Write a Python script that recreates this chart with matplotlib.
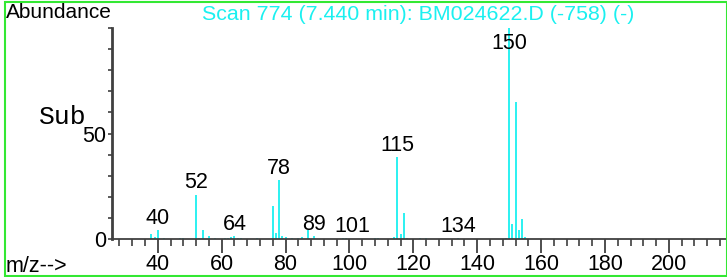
import matplotlib.pyplot as plt
from matplotlib.patches import Rectangle
from matplotlib.ticker import MultipleLocator, FixedLocator

# ----------------------------------------------------------------------------
# Data (m/z, relative abundance)
# ----------------------------------------------------------------------------
mz = [38, 39, 40, 42, 47, 48, 52, 53, 54, 56, 58, 61, 62, 63, 64, 65, 66, 71,
      76, 77, 78, 79, 80, 82, 84, 85, 87, 89, 98, 99, 108, 109, 114, 115, 116,
      117, 118, 122, 124, 134, 149, 150, 151, 152, 153, 154, 155]
abundance = [2.6, 1.0, 4.2, 0.5, 0.5, 0.4, 21.0, 0.5, 4.5, 1.2, 0.6, 0.6, 0.6,
             0.8, 1.3, 0.6, 0.5, 0.4, 15.7, 2.7, 27.8, 1.2, 1.0, 0.4, 0.4, 1.0,
             4.5, 1.2, 0.4, 0.4, 0.3, 0.3, 1.0, 38.7, 2.6, 12.5, 0.6, 0.3, 0.3,
             0.5, 0.5, 100.0, 7.0, 65.0, 4.2, 9.5, 1.0]

label_mz = [40, 52, 64, 78, 89, 101, 115, 134, 150]

title = "Scan 774 (7.440 min): BM024622.D (-758) (-)"
CYAN = "#1AF0F0"
AXIS = "#404040"
FONT = "Liberation Sans"
FS = 15.5

plt.rcParams["font.family"] = FONT

fig = plt.figure(figsize=(7.27, 2.77), dpi=100)
ax = fig.add_axes([111.5 / 727, 38 / 277, 1 - 111.5 / 727, 211 / 277])

ax.vlines(mz, 0, abundance, colors=CYAN, linewidth=1.3)

# peak labels above the bars
height_of = dict(zip(mz, abundance))
for m in label_mz:
    h = min(height_of.get(m, 0.3), 87)
    ax.annotate(str(m), (m, h), xytext=(0, 4.5), textcoords="offset points",
                ha="center", va="baseline", fontsize=FS, color="black")

ax.set_xlim(25.5, 218.2)
ax.set_ylim(0, 100)

for side in ("top", "right"):
    ax.spines[side].set_visible(False)
ax.spines["left"].set_color(AXIS)
ax.spines["left"].set_linewidth(2)
ax.spines["bottom"].set_color(AXIS)
ax.spines["bottom"].set_linewidth(1.3)

ax.xaxis.set_major_locator(MultipleLocator(20))
ax.xaxis.set_minor_locator(MultipleLocator(4))
ax.tick_params(axis="x", which="major", direction="out", length=10, width=1.3,
               color=AXIS, labelsize=FS, pad=1)
ax.tick_params(axis="x", which="minor", direction="out", length=5, width=1.2,
               color=AXIS)

ax.yaxis.set_major_locator(FixedLocator([0, 50]))
ax.yaxis.set_minor_locator(MultipleLocator(10))
ax.tick_params(axis="y", which="both", direction="out", length=3, width=1.2,
               color=AXIS, labelsize=FS, pad=0.5)

# header / footer texts
fig.text(6 / 727, 1 - 13 / 277, "Abundance", fontsize=15, ha="left",
         va="center")
fig.text(418 / 727, 1 - 14 / 277, title, fontsize=15.4, color=CYAN,
         ha="center", va="center")
fig.text(6 / 727, 1 - 266 / 277, "m/z-->", fontsize=FS, ha="left",
         va="center")
fig.text(87 / 727, 1 - 124 / 277, "Sub", fontsize=19, family="Liberation Mono",
         ha="right", va="baseline")

# green frame round the figure
fig.patches.append(Rectangle((5 / 727, 1.5 / 277), 1 - 5 / 727, 1 - 3 / 277,
                             transform=fig.transFigure, fill=False,
                             edgecolor="#33E833", linewidth=1.5))

fig.savefig("out.png", dpi=100)
